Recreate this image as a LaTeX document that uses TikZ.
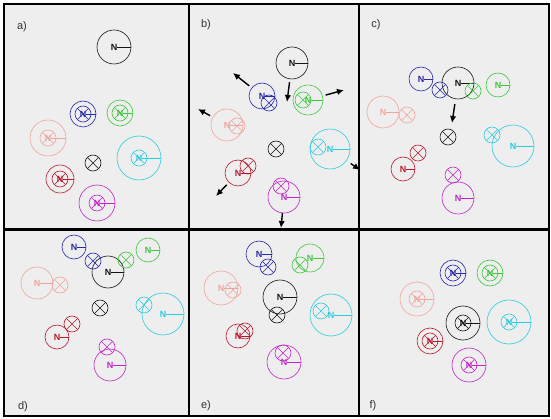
\documentclass[tikz,border=0pt]{standalone}
\usepackage{fontspec}
\setmainfont{Liberation Sans}
\usetikzlibrary{arrows.meta}
\definecolor{agblack}{RGB}{20,20,20}
\definecolor{agblue}{RGB}{40,40,170}
\definecolor{aggreen}{RGB}{60,200,60}
\definecolor{agpink}{RGB}{240,165,155}
\definecolor{agcyan}{RGB}{40,205,225}
\definecolor{agred}{RGB}{185,25,45}
\definecolor{agmag}{RGB}{195,35,200}
\definecolor{panelgray}{RGB}{238,238,238}
\tikzset{%
   agent/.style={circle, draw=#1, line width=0.6pt, inner sep=0pt},
   xmark/.style={circle, draw=#1, line width=0.6pt, inner sep=0pt, minimum size=16pt,
     path picture={\draw[#1, line width=0.6pt]
       (path picture bounding box.north west) -- (path picture bounding box.south east)
       (path picture bounding box.north east) -- (path picture bounding box.south west);}},
   nlab/.style={text=#1, inner sep=0pt, font=\fontsize{9}{9}\selectfont\bfseries},
   plab/.style={text=black!80, font=\fontsize{11}{11}\selectfont},
   move/.style={-{Latex[length=7pt,width=6.5pt]}, line width=1.4pt, shorten <=3pt},
}
% one robot: body circle, its target cross, the N mark
\newcommand{\agent}[5]{%
  \node[agent=#2, minimum size=#4] (#1) at (#3) {};
  \node[xmark=#2] (#1x) at (#5) {};
  \node[nlab=#2] (#1n) at (#3) {N};
  \draw[#2, line width=0.6pt] (#1n.east) -- (#1.east);
}

\begin{document}
\begin{tikzpicture}[x=1pt, y=-1pt]
   \useasboundingbox (0,0) rectangle (551,419);
   \fill[panelgray] (4,4) rectangle (549,416);

   % a)
   \agent{aK}{agblack}{114,47}{34pt}{93,163}
   \agent{aB}{agblue}{83,114}{26pt}{83,114}
   \agent{aG}{aggreen}{120,113}{26pt}{120,113}
   \agent{aP}{agpink}{48,138}{36pt}{48,138}
   \agent{aC}{agcyan}{139,158}{44pt}{139,158}
   \agent{aR}{agred}{60,179}{28pt}{60,179}
   \agent{aM}{agmag}{97,203}{36pt}{97,203}

   % b)
   \agent{bK}{agblack}{292,63}{32pt}{276,149}
   \agent{bB}{agblue}{262,96}{26pt}{269,103}
   \agent{bG}{aggreen}{308,100}{30pt}{303,100}
   \agent{bP}{agpink}{227,125}{32pt}{237,126}
   \agent{bC}{agcyan}{330,149}{40pt}{318,147}
   \agent{bR}{agred}{238,173}{26pt}{248,166}
   \agent{bM}{agmag}{284,197}{32pt}{281,186}

   % c)
   \agent{cK}{agblack}{458,83}{32pt}{448,137}
   \agent{cB}{agblue}{421,79}{24pt}{440,90}
   \agent{cG}{aggreen}{498,85}{24pt}{473,91}
   \agent{cP}{agpink}{383,112}{32pt}{407,115}
   \agent{cC}{agcyan}{513,146}{42pt}{492,135}
   \agent{cR}{agred}{403,169}{24pt}{418,153}
   \agent{cM}{agmag}{458,198}{32pt}{453,175}

   % d)
   \agent{dK}{agblack}{108,272}{32pt}{100,308}
   \agent{dB}{agblue}{74,247}{24pt}{93,261}
   \agent{dG}{aggreen}{148,250}{24pt}{126,260}
   \agent{dP}{agpink}{37,283}{32pt}{60,285}
   \agent{dC}{agcyan}{163,314}{42pt}{144,305}
   \agent{dR}{agred}{57,337}{24pt}{72,324}
   \agent{dM}{agmag}{110,365}{32pt}{107,347}

   % e)
   \agent{eK}{agblack}{280,297}{34pt}{277,315}
   \agent{eB}{agblue}{259,254}{26pt}{268,267}
   \agent{eG}{aggreen}{310,258}{28pt}{300,265}
   \agent{eP}{agpink}{221,288}{34pt}{233,290}
   \agent{eC}{agcyan}{331,315}{42pt}{321,311}
   \agent{eR}{agred}{238,336}{24pt}{245,331}
   \agent{eM}{agmag}{284,362}{34pt}{283,353}

   % f)
   \agent{fK}{agblack}{463,323}{34pt}{463,323}
   \agent{fB}{agblue}{453,273}{26pt}{453,273}
   \agent{fG}{aggreen}{490,273}{26pt}{490,273}
   \agent{fP}{agpink}{417,299}{34pt}{417,299}
   \agent{fC}{agcyan}{509,322}{44pt}{509,322}
   \agent{fR}{agred}{430,341}{26pt}{430,341}
   \agent{fM}{agmag}{469,365}{34pt}{469,365}

   % frame
   \draw[line width=2.2pt] (4,4) rectangle (549,416);
   \draw[line width=2.2pt] (189,4) -- (189,416);
   \draw[line width=2.2pt] (359,4) -- (359,416);
   \draw[line width=2.2pt] (4,229.5) -- (549,229.5);

   \node[plab] (la) at (22,27) {a)};
   \node[plab] (lb) at (206,25) {b)};
   \node[plab] (lc) at (376,25) {c)};
   \node[plab] (ld) at (23,407) {d)};
   \node[plab] (le) at (206,406) {e)};
   \node[plab] (lf) at (373,406) {f)};

   % moves
   \coordinate (bKt) at (287,102);
   \coordinate (bBt) at (233,73);
   \coordinate (bGt) at (344,90);
   \coordinate (bPt) at (198,109);
   \coordinate (bCt) at (360,170);
   \coordinate (bRt) at (216,196);
   \coordinate (bMt) at (281,228);
   \coordinate (cKt) at (452,123);
   \draw[move] (bK) -- (bKt);
   \draw[move] (bB) -- (bBt);
   \draw[move] (bG) -- (bGt);
   \draw[move] (bP) -- (bPt);
   \draw[move, shorten <=5pt] (bC) -- (bCt);
   \draw[move] (bR) -- (bRt);
   \draw[move, shorten <=0pt] (bM) -- (bMt);
   \draw[move, shorten <=5pt] (cK) -- (cKt);
\end{tikzpicture}
\end{document}
